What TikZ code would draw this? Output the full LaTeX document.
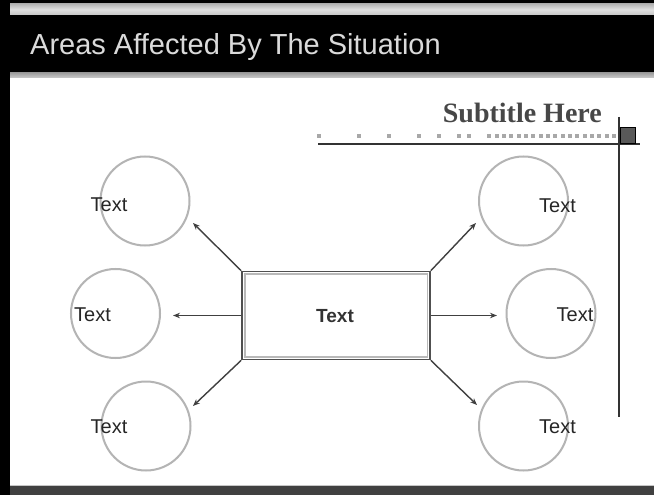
\documentclass[tikz,border=0pt]{standalone}
\usepackage{fontspec}
\setmainfont{Liberation Sans}
\newfontfamily\subtitlefont{Liberation Serif}
\usetikzlibrary{arrows.meta}
\definecolor{circ}{HTML}{B4B4B4}
\definecolor{arr}{HTML}{404040}
\definecolor{boxline}{HTML}{505050}
\definecolor{dotc}{HTML}{A8A8A8}
\definecolor{titletext}{HTML}{DADADA}
\tikzset{
  areacircle/.style={circle, draw=circ, line width=2pt, minimum size=89pt, inner sep=0pt},
  lbl/.style={font=\fontsize{20}{22}\selectfont, text=black!85, inner sep=0pt},
  outarrow/.style={draw=arr, line width=1.4pt, -{Stealth[length=7pt,width=5.5pt]}},
}
\begin{document}
\begin{tikzpicture}[x=1pt,y=-1pt]
\useasboundingbox (0,0) rectangle (654,495);
\fill[white] (0,0) rectangle (654,495);
% header
\fill[black] (0,0) rectangle (654,78);
\shade[top color=gray!60, bottom color=gray!45, middle color=gray!25] (10,4) rectangle (654,15);
\shade[top color=gray!75, bottom color=gray!40] (10,73) rectangle (654,78);
% left frame
\fill[black] (0,0) rectangle (10,495);
% footer
\fill[black!75] (10,485) rectangle (654,495);
\draw[gray!45, line width=1pt] (10,485.5) -- (654,485.5);
% title
\node[anchor=base west, text=titletext, font=\fontsize{29}{31}\selectfont, inner sep=0pt] (title) at (30,55) {Areas Affected By The Situation};
% subtitle
\node[anchor=base east, text=black!72, font=\subtitlefont\bfseries\fontsize{28}{30}\selectfont, inner sep=0pt] (sub) at (602,122) {Subtitle Here};
% dots
\foreach \x in {319.3,359.3,389.3,419.3,439.3,459.3,469.3}
  \fill[dotc] (\x-2,133.7) rectangle ++(4,4);
\foreach \k in {0,...,17}
  \fill[dotc] (489.3+7.33*\k-2,133.7) rectangle ++(4,4);
% rule lines
\coordinate (hl1) at (318,143.5);
\coordinate (hl2) at (640,143.5);
\coordinate (vl1) at (618.5,117);
\coordinate (vl2) at (618.5,417);
\draw[black!80, line width=2pt] (hl1) -- (hl2);
\draw[black!80, line width=2pt] (vl1) -- (vl2);
\draw[black, line width=0.8pt, fill=black!65] (620,127.5) rectangle (635,143);
% circles
\node[areacircle] (cTL) at (145,201) {};
\node[areacircle] (cL) at (115.5,313.5) {};
\node[areacircle] (cBL) at (146,426) {};
\node[areacircle] (cTR) at (523.5,201) {};
\node[areacircle] (cR) at (551,313.5) {};
\node[areacircle] (cBR) at (523.5,426) {};
% labels
\node[lbl] (tTL) at (109,205) {Text};
\node[lbl] (tL) at (92.5,314.5) {Text};
\node[lbl] (tBL) at (109,426.5) {Text};
\node[lbl] (tTR) at (557.5,205.5) {Text};
\node[lbl] (tR) at (575,314.5) {Text};
\node[lbl] (tBR) at (557.5,427) {Text};
% center box
\node[draw=boxline, line width=1.6pt, minimum width=188pt, minimum height=88pt, inner sep=0pt] (c) at (336,315.5) {};
\draw[gray!55, line width=1.6pt] ([shift={(3.5,3.5)}]c.north west) rectangle ([shift={(-3.5,-3.5)}]c.south east);
\node[lbl, font=\bfseries\fontsize{19}{21}\selectfont, text=black!80] (tc) at (335,316.5) {Text};
% arrows
\coordinate (aTL) at (193,223);
\coordinate (aL) at (173,315.5);
\coordinate (aBL) at (193,406);
\coordinate (aTR) at (476,223);
\coordinate (aR) at (497,315.5);
\coordinate (aBR) at (477,405);
\draw[outarrow] (c.north west) -- (aTL);
\draw[outarrow] (c.west) -- (aL);
\draw[outarrow] (c.south west) -- (aBL);
\draw[outarrow] (c.north east) -- (aTR);
\draw[outarrow] (c.east) -- (aR);
\draw[outarrow] (c.south east) -- (aBR);
\end{tikzpicture}
\end{document}
